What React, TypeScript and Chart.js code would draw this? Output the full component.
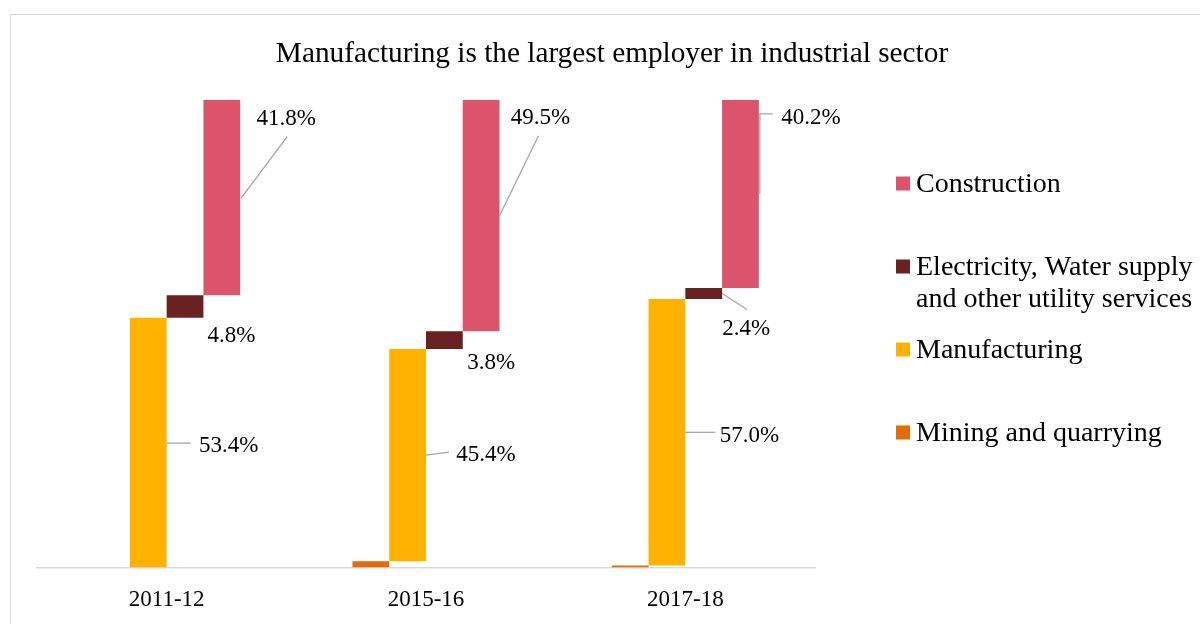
import React, { useEffect, useRef } from 'react';
import { Chart, registerables } from 'chart.js';

Chart.register(...registerables);

const chartTitle = 'Manufacturing is the largest employer in industrial sector';
const categories = ['2011-12', '2015-16', '2017-18'];
const seriesNames = [
  'Mining and quarrying',
  'Manufacturing',
  'Electricity, Water supply\nand other utility services',
  'Construction',
];
const mining = [0.0, 1.3, 0.4];
const manufacturing = [53.4, 45.4, 57.0];
const electricity = [4.8, 3.8, 2.4];
const construction = [41.8, 49.5, 40.2];
const seriesValues = [mining, manufacturing, electricity, construction];
const seriesColors = ['#E26B0A', '#FFB300', '#6A2121', '#DC546B'];
const legendOrder = [3, 2, 1, 0];

// label placement relative to each bar's right edge / vertical centre (pixels)
type LabelCfg = { t: [number, number]; l: [number, number][] | null } | null;
const labelLayout: LabelCfg[][] = [
  [null, null, null],
  [
    { t: [62, 2.5], l: [[0, 0.5], [24, 0.5]] },
    { t: [60, -1], l: [[0, 0], [23, -3]] },
    { t: [64, 2.5], l: [[0, 0], [30, 0]] },
  ],
  [
    { t: [28, 28], l: null },
    { t: [28.5, 21.5], l: null },
    { t: [24, 34.5], l: [[0, 0], [25, 16]] },
  ],
  [
    { t: [46, -80], l: [[1, 0.5], [47, -61]] },
    { t: [41, -98.5], l: [[0, 0], [39, -80]] },
    { t: [52, -77], l: [[1, 0], [1, -80], [14, -80]] },
  ],
];

const FONT = '"Liberation Serif", "Times New Roman", serif';

function floatingData(s: number): [number, number][] {
  return categories.map((_, c) => {
    let start = 0;
    for (let k = 0; k < s; k++) start += seriesValues[k][c];
    return [start, start + seriesValues[s][c]];
  });
}

const decorPlugin = {
  id: 'decor',
  afterDatasetsDraw(chart: any) {
    const ctx = chart.ctx;
    ctx.save();
    chart.data.datasets.forEach((_: any, i: number) => {
      const meta = chart.getDatasetMeta(i);
      meta.data.forEach((el: any, j: number) => {
        const cfg = labelLayout[i][j];
        if (!cfg) return;
        const { x, y, base, width } = el.getProps(['x', 'y', 'base', 'width'], true);
        const xr = x + width / 2;
        const yc = (y + base) / 2;
        if (cfg.l) {
          ctx.beginPath();
          ctx.strokeStyle = '#A6A6A6';
          ctx.lineWidth = 1.3;
          cfg.l.forEach(([dx, dy], k) => {
            if (k === 0) ctx.moveTo(xr + dx, yc + dy);
            else ctx.lineTo(xr + dx, yc + dy);
          });
          ctx.stroke();
        }
        ctx.fillStyle = '#000';
        ctx.font = `23px ${FONT}`;
        ctx.textAlign = 'center';
        ctx.textBaseline = 'middle';
        ctx.fillText(seriesValues[i][j].toFixed(1) + '%', xr + cfg.t[0], yc + cfg.t[1] + 1);
      });
    });
    ctx.restore();
  },
  afterDraw(chart: any) {
    const ctx = chart.ctx;
    const area = chart.chartArea;
    ctx.save();
    // title
    ctx.fillStyle = '#000';
    ctx.font = `29.3px ${FONT}`;
    ctx.textAlign = 'center';
    ctx.textBaseline = 'middle';
    ctx.fillText(chartTitle, chart.width / 2 + 12, 54);
    // legend
    const x0 = area.right + 81;
    ctx.font = `28px ${FONT}`;
    ctx.textAlign = 'left';
    legendOrder.forEach((s, k) => {
      const yc = area.top + (k + 1) * 83;
      ctx.fillStyle = seriesColors[s];
      ctx.fillRect(x0, yc - 6.5, 14, 14);
      ctx.fillStyle = '#000';
      seriesNames[s].split('\n').forEach((line, li) => {
        ctx.fillText(line, x0 + 20, yc + 2 + li * 32);
      });
    });
    ctx.restore();
  },
};

export default function App() {
  const canvasRef = useRef<HTMLCanvasElement | null>(null);

  useEffect(() => {
    if (!canvasRef.current) return;
    const chart = new Chart(canvasRef.current, {
      type: 'bar',
      data: {
        labels: categories,
        datasets: seriesNames.map((name, s) => ({
          label: name,
          data: floatingData(s) as any,
          backgroundColor: seriesColors[s],
          borderWidth: 0,
          categoryPercentage: 0.567,
          barPercentage: 1,
        })),
      },
      options: {
        animation: false,
        responsive: false,
        layout: { padding: { top: 100, left: 37, right: 385, bottom: -9 } },
        plugins: {
          legend: { display: false },
          title: { display: false },
          tooltip: { enabled: false },
        },
        scales: {
          x: {
            grid: { display: false, drawTicks: false },
            border: { display: true, color: '#D9D9D9', width: 1.5 },
            ticks: { color: '#000', font: { family: FONT, size: 23 }, padding: 19 },
          },
          y: { display: false, min: 0, max: 100 },
        },
      },
      plugins: [decorPlugin],
    });
    return () => chart.destroy();
  }, []);

  return (
    <div
      style={{
        position: 'fixed',
        left: 0,
        top: 0,
        width: 1200,
        height: 624,
        overflow: 'hidden',
        background: '#fff',
      }}
    >
      <div
        style={{
          position: 'absolute',
          left: 10,
          top: 14,
          width: 1210,
          height: 640,
          border: '1px solid #D9D9D9',
        }}
      />
      <canvas
        ref={canvasRef}
        width={1200}
        height={624}
        style={{ position: 'absolute', left: 0, top: 0, width: 1200, height: 624 }}
      />
    </div>
  );
}
